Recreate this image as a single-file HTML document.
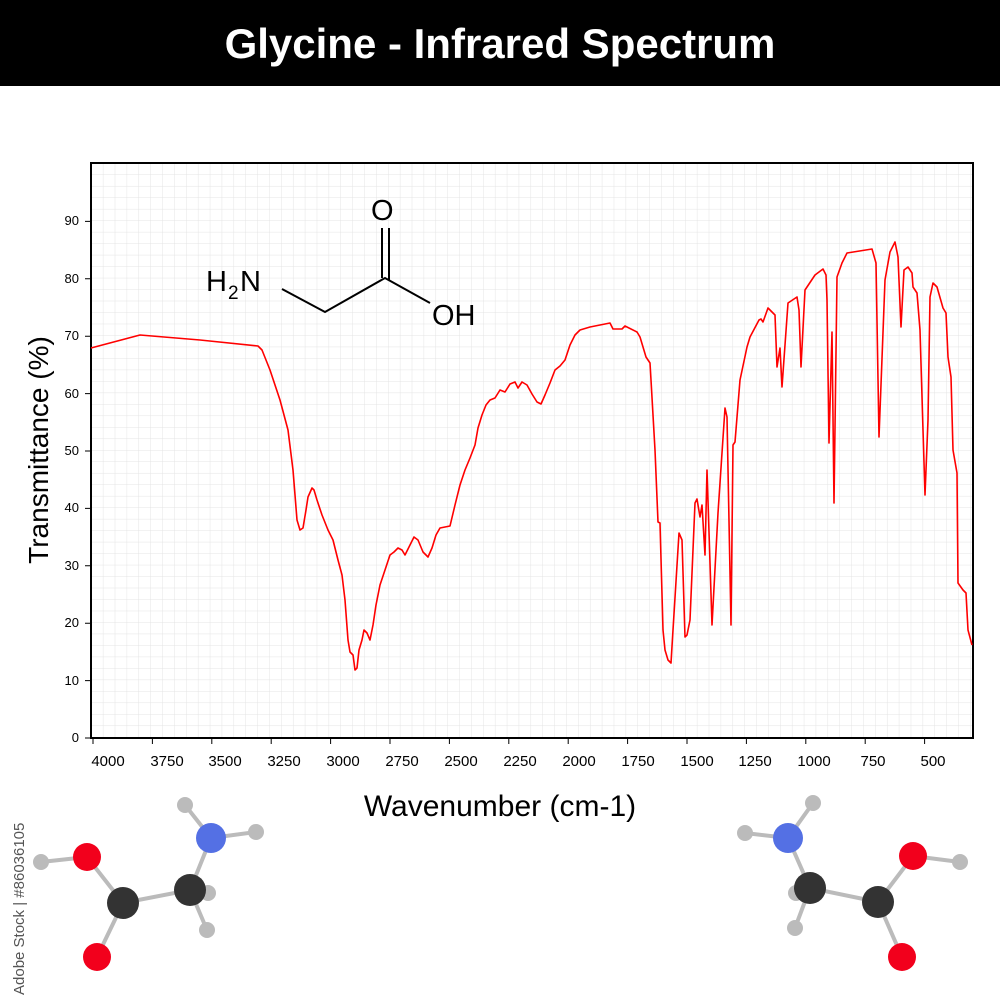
<!DOCTYPE html>
<html><head><meta charset="utf-8"><style>
body{margin:0;background:#fff;}
svg{display:block;font-family:"Liberation Sans",sans-serif;}
</style></head><body>
<svg width="1000" height="1000" viewBox="0 0 1000 1000">
<defs>
<pattern id="g" x="91" y="163" width="11.88" height="11.48" patternUnits="userSpaceOnUse">
<path d="M0 0H11.88M0 0V11.48" stroke="#e4e4e4" stroke-width="1" fill="none"/>
</pattern>
</defs>
<rect x="0" y="0" width="1000" height="86" fill="#000"/>
<text x="500" y="58" text-anchor="middle" fill="#fff" font-size="42" font-weight="bold">Glycine - Infrared Spectrum</text>
<rect x="91" y="163" width="882" height="575" fill="url(#g)"/>
<rect x="91" y="163" width="882" height="575" fill="none" stroke="#000" stroke-width="2"/>
<g font-size="13" text-anchor="end" fill="#000">
<text x="79" y="742">0</text><text x="79" y="685">10</text><text x="79" y="627">20</text><text x="79" y="570">30</text><text x="79" y="512">40</text><text x="79" y="455">50</text><text x="79" y="398">60</text><text x="79" y="340">70</text><text x="79" y="283">80</text><text x="79" y="225">90</text>
</g>
<g stroke="#000" stroke-width="1">
<path d="M85 738H91M85 680.6H91M85 623.2H91M85 565.8H91M85 508.4H91M85 451H91M85 393.6H91M85 336.2H91M85 278.8H91M85 221.4H91"/>
<path d="M93 738V744M152.4 738V744M211.8 738V744M271.2 738V744M330.6 738V744M390 738V744M449.4 738V744M508.8 738V744M568.2 738V744M627.6 738V744M687 738V744M746.4 738V744M805.8 738V744M865.2 738V744M924.6 738V744"/>
</g>
<g font-size="15" text-anchor="middle" fill="#000">
<text x="108" y="766">4000</text><text x="167" y="766">3750</text><text x="225" y="766">3500</text><text x="284" y="766">3250</text><text x="343" y="766">3000</text><text x="402" y="766">2750</text><text x="461" y="766">2500</text><text x="520" y="766">2250</text><text x="579" y="766">2000</text><text x="638" y="766">1750</text><text x="697" y="766">1500</text><text x="755" y="766">1250</text><text x="814" y="766">1000</text><text x="873" y="766">750</text><text x="933" y="766">500</text>
</g>
<text x="500" y="816" text-anchor="middle" font-size="30">Wavenumber (cm-1)</text>
<text transform="translate(48,450) rotate(-90)" text-anchor="middle" font-size="28">Transmittance (%)</text>
<path fill="none" stroke="#f00" stroke-width="1.6" stroke-linejoin="round" d="M91 348 L140 335 L200 340 L258 346 L262 350 L270 370 L280 400 L288 430 L293 470 L297 520 L300 530 L303 528 L306 510 L308 497 L312 488 L314 490 L317 500 L322 515 L328 530 L333 540 L338 560 L342 575 L345 600 L348 640 L350 652 L353 655 L355 670 L357 668 L359 650 L362 640 L364 630 L367 633 L370 640 L373 625 L376 605 L380 585 L385 570 L390 555 L394 552 L398 548 L402 550 L405 555 L410 545 L414 537 L418 540 L423 552 L428 557 L432 548 L436 535 L440 528 L450 526 L455 505 L460 485 L465 470 L470 458 L475 445 L478 428 L482 415 L486 405 L490 400 L495 398 L500 390 L505 392 L510 384 L515 382 L518 388 L522 382 L527 385 L532 394 L537 402 L541 404 L545 395 L550 383 L555 370 L560 366 L565 360 L570 345 L575 335 L580 330 L590 327 L600 325 L610 323 L613 329 L622 329 L625 326 L637 332 L640 337 L646 357 L650 363 L651 380 L655 450 L658 522 L660 523 L663 630 L665 650 L668 660 L671 663 L673 630 L679 533 L682 540 L685 637 L687 635 L690 620 L695 503 L697 499 L700 517 L702 505 L705 555 L707 470 L712 625 L718 513 L725 408 L727 417 L731 625 L733 445 L735 442 L740 380 L747 347 L750 337 L759 320 L761 319 L763 322 L768 308 L772 312 L775 315 L777 367 L780 348 L782 387 L788 303 L797 297 L799 310 L801 367 L805 290 L815 275 L823 269 L826 275 L827 300 L829 443 L832 332 L834 503 L837 277 L842 263 L847 253 L872 249 L876 263 L879 437 L885 280 L890 252 L895 242 L898 257 L901 327 L904 270 L908 267 L912 273 L913 287 L917 293 L920 330 L923 430 L925 495 L928 420 L930 297 L933 283 L937 287 L943 308 L946 313 L948 357 L951 377 L953 450 L957 473 L958 583 L963 590 L966 593 L968 630 L972 645"/>
<g font-size="29" fill="#000">
<text x="206" y="291">H</text><text x="228" y="299" font-size="19">2</text><text x="240" y="291">N</text>
<text x="371" y="220">O</text>
<text x="432" y="325">OH</text>
</g>
<g stroke="#000" stroke-width="2" fill="none">
<path d="M282 289L325 312L385 278L430 303"/>
<path d="M382 278V228M389 280V228"/>
</g>
<g stroke="#bbb" stroke-width="4" fill="none">
<path d="M185 805L211 838L256 832M211 838L190 890L123 903L87 857L41 862M123 903L97 957M190 890L207 930M190 890L210 893"/>
<path d="M813 803L788 838L745 833M788 838L810 888L878 902L913 856L960 862M878 902L902 957M810 888L795 928M810 888L795 893"/>
</g>
<g fill="#bbb"><circle cx="185" cy="805" r="8"/><circle cx="256" cy="832" r="8"/><circle cx="41" cy="862" r="8"/><circle cx="207" cy="930" r="8"/><circle cx="208" cy="893" r="8"/>
<circle cx="813" cy="803" r="8"/><circle cx="745" cy="833" r="8"/><circle cx="960" cy="862" r="8"/><circle cx="795" cy="928" r="8"/><circle cx="796" cy="893" r="8"/></g>
<g><circle cx="211" cy="838" r="15" fill="#5470e4"/><circle cx="87" cy="857" r="14" fill="#f2001c"/><circle cx="97" cy="957" r="14" fill="#f2001c"/><circle cx="123" cy="903" r="16" fill="#333"/><circle cx="190" cy="890" r="16" fill="#333"/>
<circle cx="788" cy="838" r="15" fill="#5470e4"/><circle cx="913" cy="856" r="14" fill="#f2001c"/><circle cx="902" cy="957" r="14" fill="#f2001c"/><circle cx="810" cy="888" r="16" fill="#333"/><circle cx="878" cy="902" r="16" fill="#333"/></g>
<text transform="translate(24,995) rotate(-90)" font-size="15" fill="#555">Adobe Stock | #86036105</text>
</svg>
</body></html>
